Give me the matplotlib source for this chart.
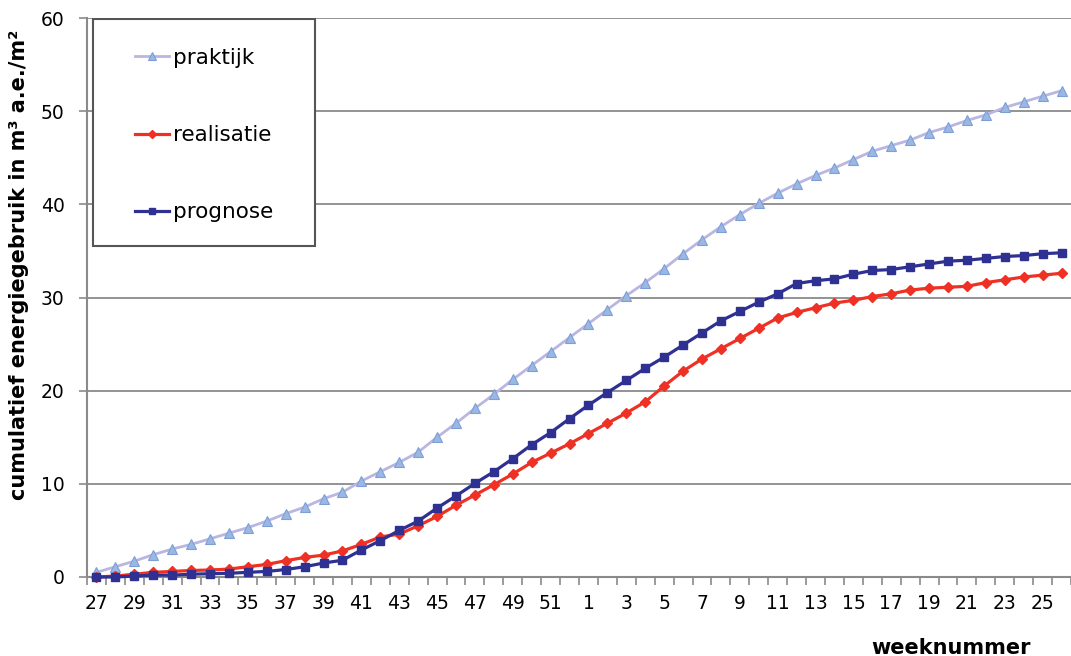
import numpy as np
import matplotlib
matplotlib.use("Agg")
from matplotlib import pyplot as plt
from matplotlib.patches import Rectangle

#weeknummers: week 27 t/m 52, daarna 1 t/m 26
weken = list(range(27, 53)) + list(range(1, 27))

#cumulatief energiegebruik (m3 a.e./m2)
praktijk = [0.5, 1.1, 1.7, 2.4, 3.0, 3.5, 4.1, 4.7, 5.3, 6.0,
            6.8, 7.5, 8.4, 9.1, 10.3, 11.3, 12.3, 13.4, 15.0, 16.5,
            18.1, 19.6, 21.2, 22.7, 24.2, 25.7, 27.2, 28.7, 30.2, 31.6,
            33.1, 34.7, 36.2, 37.6, 38.9, 40.1, 41.2, 42.2, 43.1, 43.9,
            44.8, 45.7, 46.3, 46.9, 47.7, 48.3, 49.0, 49.6, 50.4, 51.0,
            51.6, 52.2]
realisatie = [0.0, 0.1, 0.3, 0.5, 0.6, 0.7, 0.75, 0.85, 1.1, 1.35,
              1.75, 2.1, 2.35, 2.8, 3.5, 4.3, 4.6, 5.5, 6.5, 7.7,
              8.8, 9.9, 11.05, 12.3, 13.3, 14.3, 15.4, 16.5, 17.6, 18.8,
              20.5, 22.1, 23.4, 24.5, 25.6, 26.7, 27.8, 28.4, 28.9, 29.4,
              29.7, 30.1, 30.4, 30.8, 31.0, 31.1, 31.2, 31.6, 31.9, 32.2,
              32.4, 32.6]
prognose = [0.0, 0.0, 0.1, 0.2, 0.2, 0.3, 0.35, 0.4, 0.5, 0.6,
            0.8, 1.1, 1.5, 1.8, 2.9, 3.9, 5.0, 6.0, 7.4, 8.7,
            10.05, 11.3, 12.7, 14.2, 15.5, 17.0, 18.45, 19.8, 21.1, 22.4,
            23.6, 24.9, 26.2, 27.5, 28.5, 29.5, 30.4, 31.5, 31.8, 32.0,
            32.5, 32.9, 33.0, 33.3, 33.6, 33.9, 34.0, 34.2, 34.4, 34.5,
            34.7, 34.8]

plt.rcParams['font.family'] = ['DejaVu Sans']

W, H = 1071, 656
fig = plt.figure(figsize=(W / 100, H / 100), dpi=100)
ax = fig.add_axes([87 / W, 1 - 577 / H, 1 - 87 / W, (577 - 18) / H])

x = np.arange(len(weken))
grijs = '#8a8a8a'

ax.plot(x, praktijk, color='#b9b6e2', lw=2, marker='^', ms=7,
        mfc='#9bb7e3', mec='#7d9fd6', mew=0.8, clip_on=False, zorder=3,
        label='praktijk')
ax.plot(x, realisatie, color='#ee3124', lw=2.3, marker='D', ms=5.5,
        mfc='#ee3124', mec='#ee3124', clip_on=False, zorder=4,
        label='realisatie')
ax.plot(x, prognose, color='#2e3192', lw=2.3, marker='s', ms=6,
        mfc='#2e3192', mec='#2e3192', clip_on=False, zorder=5,
        label='prognose')

ax.set_ylim(0, 60)
ax.set_xlim(-0.5, 51.1)
ax.set_yticks(range(0, 61, 10))
ax.yaxis.grid(True, color=grijs, lw=1.3)
ax.set_axisbelow(True)

#labels op elke tweede week, streepjes tussen de categorieën
ax.set_xticks(x[::2])
ax.set_xticklabels([str(w) for w in weken[::2]])
ax.set_xticks(np.arange(-0.5, 51.6, 1), minor=True)
ax.tick_params(axis='x', which='major', length=0, pad=12, labelsize=13.5)
ax.tick_params(axis='x', which='minor', length=6, color=grijs, width=1.2)
ax.tick_params(axis='y', length=6, color=grijs, width=1.2, pad=10,
               labelsize=13.5)

for s in ['top', 'right']:
    ax.spines[s].set_visible(False)
for s in ['left', 'bottom']:
    ax.spines[s].set_color(grijs)
    ax.spines[s].set_linewidth(1.5)

fig.text(19 / W, 1 - 265 / H, 'cumulatief energiegebruik in m³ a.e./m²',
         fontsize=15, fontweight='bold', rotation=90, ha='center',
         va='center')
fig.text(951 / W, 1 - 648 / H, 'weeknummer', fontsize=15,
         fontweight='bold', ha='center', va='center')

#legendakader
kader = Rectangle(((93 - 87) / 984, (577 - 246) / 559), 222 / 984, 227 / 559,
                  transform=ax.transAxes, facecolor='white',
                  edgecolor='#555555', lw=1.5, zorder=6)
ax.add_patch(kader)
leg = ax.legend(loc='upper left',
                bbox_to_anchor=((135 - 87) / 984, (577 - 48) / 559),
                frameon=False, borderpad=0, borderaxespad=0,
                handlelength=1.6, handletextpad=0.15, labelspacing=2.65,
                fontsize=15.5, markerscale=0.8)
leg.set_zorder(7)

fig.savefig('out.png', dpi=100)
